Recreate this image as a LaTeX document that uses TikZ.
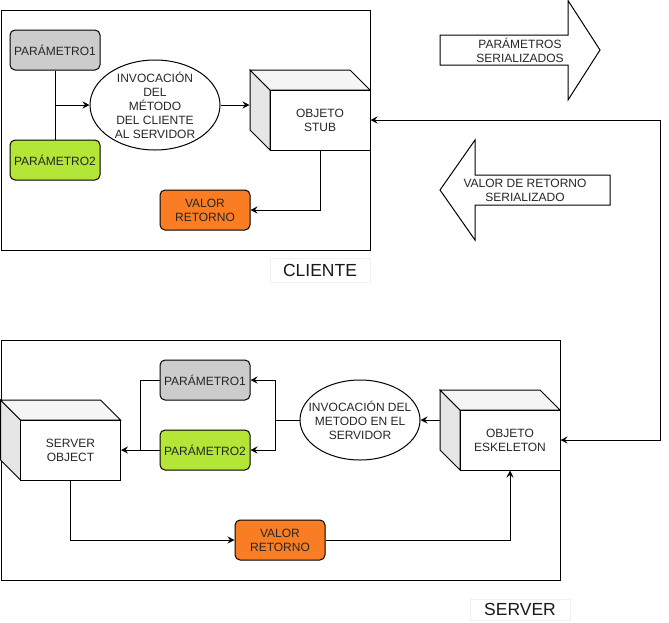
\documentclass[tikz,border=0pt]{standalone}
\usepackage{fontspec}
\setmainfont{Liberation Sans}
\usetikzlibrary{arrows.meta,shapes.geometric,calc}

\definecolor{paramgray}{HTML}{CCCCCC}
\definecolor{paramgreen}{HTML}{B3E636}
\definecolor{retorange}{HTML}{FA7D23}
\definecolor{cubeside}{HTML}{E6E6E6}
\definecolor{cubetop}{HTML}{F5F5F5}
\definecolor{labelframe}{HTML}{F0F0F0}

\tikzset{
  txt/.style={font=\fontsize{12}{14}\selectfont, text=black!85},
  roundbox/.style={txt, draw, rounded corners=5pt, minimum width=90pt,
    minimum height=40pt, inner sep=0pt, align=center},
  callell/.style={draw, ellipse, inner sep=0pt},
  frontface/.style={txt, draw, fill=white, minimum width=100pt,
    minimum height=60pt, inner sep=0pt, align=center},
  region/.style={draw, inner sep=0pt},
  caption/.style={font=\fontsize{17.5}{19}\selectfont, text=black!90,
    draw=labelframe, line width=0.6pt, minimum width=100pt, inner sep=0pt},
  arr/.style={-{Stealth[length=7pt,width=7pt,inset=2.5pt]}},
  biarr/.style={{Stealth[length=7pt,width=7pt,inset=2.5pt]}-{Stealth[length=7pt,width=7pt,inset=2.5pt]}},
  bigarrow/.style={draw, fill=white, line join=miter}
}

% 3D box: #1 name, #2 top-left corner of the outer outline, #3 label
\newcommand{\cubebox}[3]{%
  \begin{scope}[shift={#2}]
    \node[minimum width=120pt, minimum height=80pt, inner sep=0pt] (#1) at (60,40) {};
    \draw[fill=cubeside] (0,0) -- (20,20) -- (20,80) -- (0,60) -- cycle;
    \draw[fill=cubetop] (0,0) -- (100,0) -- (120,20) -- (20,20) -- cycle;
    \node[frontface] (#1f) at (70,50) {#3};
  \end{scope}%
}

\begin{document}
\begin{tikzpicture}[x=1pt, y=-1pt, line width=1pt]
\useasboundingbox (0,0) rectangle (669,622);

% ---------- client side ----------
\node[region, minimum width=369.5pt, minimum height=240pt, anchor=north west] (clientbox) at (0.5,10) {};
\node[caption, minimum height=24pt] (clientcap) at (320,270) {CLIENTE};

\node[roundbox, fill=paramgray] (p1) at (55,50) {PARÁMETRO1};
\node[roundbox, fill=paramgreen] (p2) at (55,160) {PARÁMETRO2};
\node[callell, minimum width=130pt, minimum height=90pt] (ell) at (155,105) {};
\node[txt, align=center] (elltext) at (ell.center)
  {INVOCACIÓN\\DEL\\MÉTODO\\DEL CLIENTE\\AL SERVIDOR};
\cubebox{stub}{(250,70)}{OBJETO\\STUB}
\node[roundbox, fill=retorange] (vr) at (205,210) {VALOR\\RETORNO};

\draw (p1.south) -- (p2.north);
\draw[arr] (p1.south |- ell.west) -- (ell.west);
\draw[arr] (ell.east) -- (ell.east -| stub.west);
\draw[arr] (stubf.south) |- (vr.east);

% ---------- transfer arrows ----------
\draw[bigarrow] (440,35) -- (568,35) -- (568,0.5) -- (600,50) -- (568,100) -- (568,65) -- (440,65) -- cycle;
\node[txt, align=center] (sendlbl) at (520,50) {PARÁMETROS\\SERIALIZADOS};
\draw[bigarrow] (440,190) -- (475,140) -- (475,175) -- (610,175) -- (610,205) -- (475,205) -- (475,240) -- cycle;
\node[txt, align=center] (retlbl) at (525,190) {VALOR DE RETORNO\\SERIALIZADO};

% ---------- server side ----------
\node[region, minimum width=559.5pt, minimum height=240pt, anchor=north west] (serverbox) at (0.5,340) {};
\node[caption, minimum height=21pt] (servercap) at (520,609.5) {SERVER};

\cubebox{sobj}{(0.5,400)}{SERVER\\OBJECT}
\node[roundbox, fill=paramgray] (sp1) at (205,380) {PARÁMETRO1};
\node[roundbox, fill=paramgreen] (sp2) at (205,450) {PARÁMETRO2};
\node[callell, minimum width=120pt, minimum height=80pt] (sell) at (360,420) {};
\node[txt, align=center] (selltext) at (sell.center)
  {INVOCACIÓN DEL\\METODO EN EL\\SERVIDOR};
\cubebox{esk}{(440,390)}{OBJETO\\ESKELETON}
\node[roundbox, fill=retorange] (svr) at (280,540) {VALOR\\RETORNO};

\draw[arr] (esk.west |- sell.east) -- (sell.east);
\coordinate (split) at (275,420);
\draw (sell.west) -- (split);
\draw[arr] (split) |- (sp1.east);
\draw[arr] (split) |- (sp2.east);
\coordinate (join) at (140,450);
\draw (sp1.west) -| (join);
\draw[arr] (sp2.west) -- (sobjf.east);
\draw[arr] (sobjf.south) |- (svr.west);
\draw[arr] (svr.east) -| (eskf.south);

% ---------- link between stub and skeleton ----------
\coordinate (bend) at (660,120);
\draw[biarr] (stubf.east) -- (bend) |- (eskf.east);

\end{tikzpicture}
\end{document}
